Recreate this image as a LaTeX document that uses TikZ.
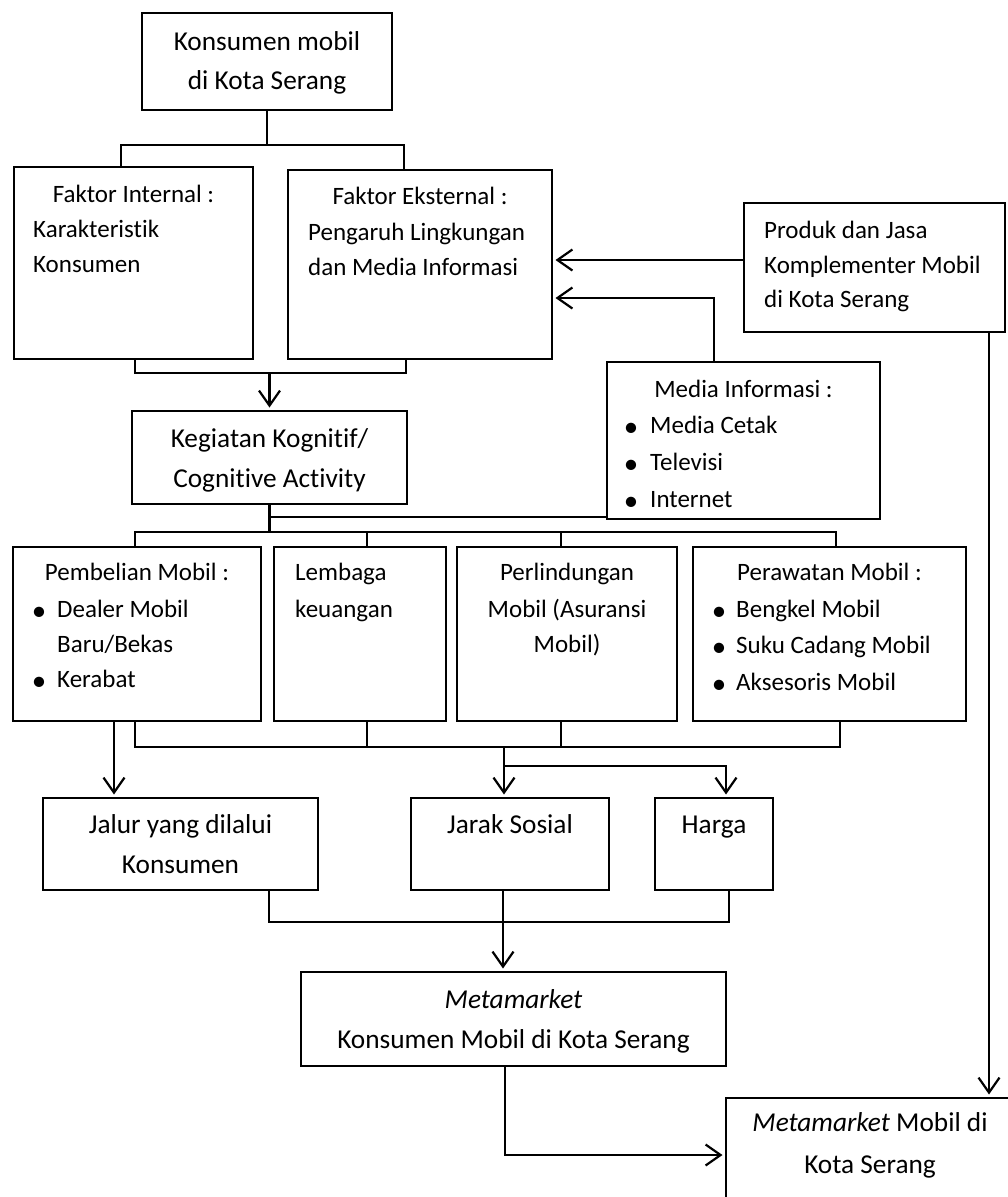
\documentclass[tikz,border=0pt]{standalone}
\usepackage{fontspec}
\setmainfont{Carlito}[Ligatures={TeX,NoCommon}]
\usetikzlibrary{arrows.meta,calc}

\tikzset{
  box/.style={draw, line width=2.4pt, inner sep=0pt, outer sep=0pt, anchor=north west},
  ln/.style={line width=2.2pt},
  arr/.style={line width=2.2pt, -{Straight Barb[length=15pt,width=21pt,line width=2.2pt]}, shorten >=3.5pt},
  big/.style={font=\fontsize{27.3}{33}\selectfont},
  small/.style={font=\fontsize{25}{30}\selectfont},
  tc/.style={inner sep=0pt, anchor=base},
  tl/.style={inner sep=0pt, anchor=base west},
  dot/.style={inner sep=0pt, anchor=base, font=\fontsize{29}{29}\selectfont},
}

\begin{document}
\begin{tikzpicture}[x=1pt,y=-1pt]
\path[use as bounding box, fill=white] (0,0) rectangle (1008,1197);
\clip (0,0) rectangle (1008,1197);

% ---------- boxes ----------
\node[box, minimum width=250, minimum height=97]  (top)   at (142,13)   {};
\node[box, minimum width=239, minimum height=192] (int)   at (14,167)   {};
\node[box, minimum width=264, minimum height=189] (eks)   at (288,170)  {};
\node[box, minimum width=261, minimum height=129] (prod)  at (744,203)  {};
\node[box, minimum width=273, minimum height=157] (med)   at (607,362)  {};
\node[box, minimum width=275, minimum height=93]  (keg)   at (132,411)  {};
\node[box, minimum width=248, minimum height=174] (pemb)  at (13,547)   {};
\node[box, minimum width=172, minimum height=174] (lemb)  at (274,547)  {};
\node[box, minimum width=220, minimum height=174] (perl)  at (457,547)  {};
\node[box, minimum width=273, minimum height=174] (peraw) at (693,547)  {};
\node[box, minimum width=275, minimum height=92]  (jalur) at (43,798)   {};
\node[box, minimum width=198, minimum height=92]  (jarak) at (411,798)  {};
\node[box, minimum width=118, minimum height=92]  (harga) at (655,798)  {};
\node[box, minimum width=425, minimum height=94]  (meta)  at (301,972)  {};
\node[box, minimum width=290, minimum height=140] (mm)    at (726,1098) {};

% ---------- texts ----------
\node[tc,big] (t1a) at (267,50) {Konsumen mobil};
\node[tc,big] (t1b) at (267,89) {di Kota Serang};

\node[tc,small] (t2a) at (133.5,202) {Faktor Internal :};
\node[tl,small] (t2b) at (33,237) {Karakteristik};
\node[tl,small] (t2c) at (33,272) {Konsumen};

\node[tc,small] (t3a) at (420,204) {Faktor Eksternal :};
\node[tl,small] (t3b) at (308,240) {Pengaruh Lingkungan};
\node[tl,small] (t3c) at (308,275) {dan Media Informasi};

\node[tl,small] (t4a) at (764,238) {Produk dan Jasa};
\node[tl,small] (t4b) at (764,273) {Komplementer Mobil};
\node[tl,small] (t4c) at (764,307) {di Kota Serang};

\node[tc,small] (t5a) at (743.5,397) {Media Informasi :};
\node[dot] (b5a) at (631,436) {•};
\node[dot] (b5b) at (631,473) {•};
\node[dot] (b5c) at (631,510) {•};
\node[tl,small] (t5b) at (650,433) {Media Cetak};
\node[tl,small] (t5c) at (650,470) {Televisi};
\node[tl,small] (t5d) at (650,507) {Internet};

\node[tc,big] (t6a) at (269.5,447) {Kegiatan Kognitif/};
\node[tc,big] (t6b) at (269.5,487) {Cognitive Activity};

\node[tc,small] (t7a) at (137,580) {Pembelian Mobil :};
\node[dot] (b7a) at (39,620) {•};
\node[dot] (b7b) at (39,690) {•};
\node[tl,small] (t7b) at (57,617) {Dealer Mobil};
\node[tl,small] (t7c) at (57,652) {Baru/Bekas};
\node[tl,small] (t7d) at (57,687) {Kerabat};

\node[tl,small] (t8a) at (295,580) {Lembaga};
\node[tl,small] (t8b) at (295,617) {keuangan};

\node[tc,small] (t9a) at (567,580) {Perlindungan};
\node[tc,small] (t9b) at (567,617) {Mobil (Asuransi};
\node[tc,small] (t9c) at (567,652) {Mobil)};

\node[tc,small] (t10a) at (829.5,580) {Perawatan Mobil :};
\node[dot] (b10a) at (719,620) {•};
\node[dot] (b10b) at (719,656) {•};
\node[dot] (b10c) at (719,693) {•};
\node[tl,small] (t10b) at (736,617) {Bengkel Mobil};
\node[tl,small] (t10c) at (736,653) {Suku Cadang Mobil};
\node[tl,small] (t10d) at (736,690) {Aksesoris Mobil};

\node[tc,big] (t11a) at (180.5,833) {Jalur yang dilalui};
\node[tc,big] (t11b) at (180.5,873) {Konsumen};
\node[tc,big] (t12) at (510,833) {Jarak Sosial};
\node[tc,big] (t13) at (714,833) {Harga};

\node[tc,big] (t14a) at (513.5,1008) {\textit{Metamarket}};
\node[tc,big] (t14b) at (513.5,1048) {Konsumen Mobil di Kota Serang};
\node[tc,big] (t15a) at (870,1131) {\textit{Metamarket} Mobil di};
\node[tc,big] (t15b) at (870,1173) {Kota Serang};

% ---------- connectors ----------
% consumers split into internal and external factors
\coordinate (s1) at (267,145);
\draw[ln] (top.south) -- (s1);
\draw[ln] ([xshift=107pt]int.north west) |- (s1) -| ([xshift=116pt]eks.north west);

% both factors join into cognitive activity
\coordinate (s2) at (269.5,373);
\draw[ln] ([xshift=121pt]int.south west) |- (s2) -| ([xshift=118pt]eks.south west);
\draw[arr] (s2) -- (keg.north);

% inputs to the external factors
\coordinate (m1) at (552,298);
\draw[arr] ([yshift=7.5pt]prod.west) -- ([yshift=7.5pt]prod.west -| eks.east);
\draw[arr] ([xshift=107pt]med.north west) |- (m1);

% complementary products down to the car metamarket
\draw[arr] ([xshift=245pt]prod.south west) -- ([xshift=245pt]prod.south west |- mm.north);

% cognitive activity feeds the four services
\coordinate (s3) at (269.5,532);
\coordinate (m2) at (607,517);
\draw[ln] (keg.south) -- (s3);
\draw[ln] (keg.south |- m2) -- (m2);
\draw[ln] ([xshift=122pt]pemb.north west) |- (s3) -| ([xshift=143pt]peraw.north west);
\draw[ln] ([xshift=93pt]lemb.north west) -- ++(0,-15);
\draw[ln] ([xshift=104pt]perl.north west) -- ++(0,-15);

% services feed route, social distance and price
\coordinate (s4) at (504,747);
\coordinate (s5) at (504,766);
\draw[ln] ([xshift=122pt]pemb.south west) |- (s4) -| ([xshift=147pt]peraw.south west);
\draw[ln] ([xshift=93pt]lemb.south west) -- ++(0,26);
\draw[ln] ([xshift=104pt]perl.south west) -- ++(0,26);
\draw[arr] ([xshift=101pt]pemb.south west) -- ([xshift=101pt]pemb.south west |- jalur.north);
\draw[arr] (s4) -- (s4 |- jarak.north);
\draw[arr] (s5) -| ([xshift=71pt]harga.north west);

% route, social distance and price give the consumer metamarket
\coordinate (s6) at (503,922);
\draw[ln] ([xshift=226pt]jalur.south west) |- (s6) -| ([xshift=74pt]harga.south west);
\draw[arr] ([xshift=92pt]jarak.south west) -- ([xshift=92pt]jarak.south west |- meta.north);

% consumer metamarket to the car metamarket
\coordinate (m3) at (726,1155);
\draw[arr] ([xshift=204pt]meta.south west) |- (m3);
\end{tikzpicture}
\end{document}
